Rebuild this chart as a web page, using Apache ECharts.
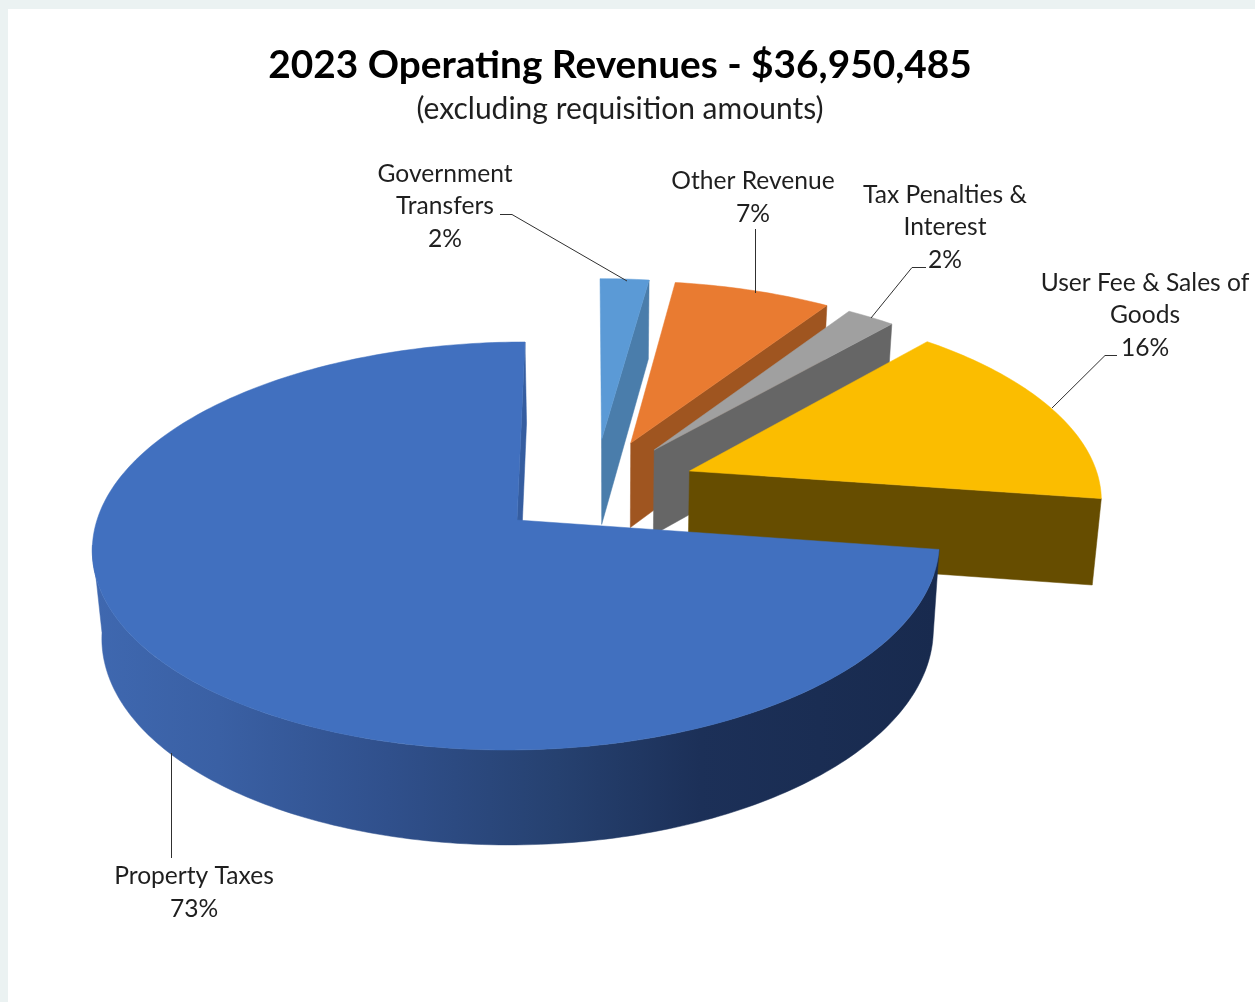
<!DOCTYPE html>
<html><head><meta charset="utf-8">
<style>html,body{margin:0;padding:0;background:#fff}#main{width:1255px;height:1002px}</style>
<script src="https://cdn.jsdelivr.net/npm/echarts@6/dist/echarts.min.js"></script>
</head><body><div id="main"></div>
<script>
// ---- data ----
var categories = ['Government\nTransfers', 'Other Revenue', 'Tax Penalties &\nInterest', 'User Fee & Sales of\nGoods', 'Property Taxes'];
var shares = [2.2, 7.1, 2.2, 15.8, 72.7];
var titleText = '2023 Operating Revenues - $36,950,485';
var subtitleText = '(excluding requisition amounts)';

// ---- slice styling and exploded offsets (disc units) ----
var topColors = ['#5b9ad6', '#e97b31', '#a0a0a0', '#fbbd00', '#4170bf'];
var wallColors = ['#4a7dab', '#9f5520', '#666666', '#664d00', '#355da0'];
var explodeU = [0.203, 0.276, 0.334, 0.4185, 0];
var explodeV = [-0.42, -0.403, -0.365, -0.252, 0];
var labelCentres = [[445, 206.5], [753, 197.5], [945, 227.5], [1145, 315.5], [194, 892.5]];
var leaders = [
  [[500, 214.5], [512, 214.5], [627, 281]],
  [[755.5, 229], [755.5, 293]],
  [[926, 267.5], [912, 267.5], [871, 318]],
  [[1117, 355.5], [1105, 355.5], [1052, 408]],
  [[171.5, 753], [171.5, 858]]
];

// ---- projection of the tilted disc ----
var P = {cx: 517, cy: 520, a: 420, b: -9, d: 200.7, k: 0.1274};
function project(u, v) {
  var w = 1 - P.k * v;
  return [P.cx + (P.a * u + P.b * v) / w, P.cy + P.d * v / w];
}
function lower(p) {
  return [p[0] - 0.0185 * (p[0] - 610), p[1] + 79 + 0.034 * (p[1] - 281)];
}
function rad(d) { return d * Math.PI / 180; }
function rim(i, deg) {
  return project(explodeU[i] + Math.sin(rad(deg)), explodeV[i] - Math.cos(rad(deg)));
}
function arc(i, from, to) {
  var pts = [], n = Math.max(2, Math.ceil(Math.abs(to - from)));
  for (var j = 0; j <= n; j++) pts.push(rim(i, from + (to - from) * j / n));
  return pts;
}
var total = shares.reduce(function (s, x) { return s + x; }, 0);
var starts = [], acc = 0;
shares.forEach(function (s) { starts.push(acc); acc += s / total * 360; });

var blueWallFill = new echarts.graphic.LinearGradient(92, 0, 937, 0, [
  {offset: 0, color: '#3f68b0'}, {offset: 0.15, color: '#3a60a4'},
  {offset: 0.35, color: '#30508c'}, {offset: 0.55, color: '#264170'},
  {offset: 0.72, color: '#1c3058'}, {offset: 1, color: '#182a4e'}
], true);

function poly(points, fill) {
  return {type: 'polygon', shape: {points: points}, silent: true,
          style: {fill: fill, stroke: fill, lineWidth: 0.5}};
}
function renderSlice(params, api) {
  var i = params.dataIndex;
  var a0 = starts[i], a1 = a0 + api.value(0) / total * 360;
  var apex = project(explodeU[i], explodeV[i]);
  var children = [];
  var arcTop = arc(i, a0, a1);
  if (i === shares.length - 1) {
    // front rim from the cut edge round to the left-hand silhouette point
    var front = arc(i, a0, 263);
    children.push(poly(front.concat(front.map(lower).reverse()), blueWallFill));
    var e = rim(i, a1);
    children.push(poly([e, lower(e), lower(apex), apex], wallColors[i]));
  } else {
    var end = rim(i, a1);
    children.push(poly([end, lower(end), lower(apex), apex], wallColors[i]));
  }
  children.push(poly([apex].concat(arcTop), topColors[i]));
  return {type: 'group', children: children};
}
function renderLabel(params, api) {
  var i = params.dataIndex;
  var c = labelCentres[i];
  return {type: 'group', children: [
    {type: 'polyline', shape: {points: leaders[i]}, silent: true,
     style: {fill: null, stroke: '#303030', lineWidth: 1}},
    {type: 'text', x: c[0], y: c[1], silent: true, style: {
      text: categories[i] + '\n' + Math.round(api.value(0)) + '%',
      font: '24.6px Lato', fill: '#1f1f1f', align: 'center', verticalAlign: 'middle', lineHeight: 32.5
    }}
  ]};
}

var chart = echarts.init(document.getElementById('main'), null, {renderer: 'canvas'});
chart.setOption({
  animation: false,
  backgroundColor: '#ebf2f2',
  graphic: [{type: 'rect', z: -1, silent: true, shape: {x: 8, y: 9, width: 1247, height: 993}, style: {fill: '#ffffff'}}],
  title: {
    text: titleText, subtext: subtitleText, left: 615, top: 41, textAlign: 'center', itemGap: 9,
    textStyle: {fontFamily: 'Lato', fontWeight: 'bold', fontSize: 38.8, color: '#000000'},
    subtextStyle: {fontFamily: 'Lato', fontSize: 30, color: '#1f1f1f'}
  },
  series: [
    {type: 'custom', coordinateSystem: 'none', renderItem: renderSlice, data: shares, z: 2, silent: true},
    {type: 'custom', coordinateSystem: 'none', renderItem: renderLabel, data: shares, z: 3, silent: true}
  ]
});
</script></body></html>
